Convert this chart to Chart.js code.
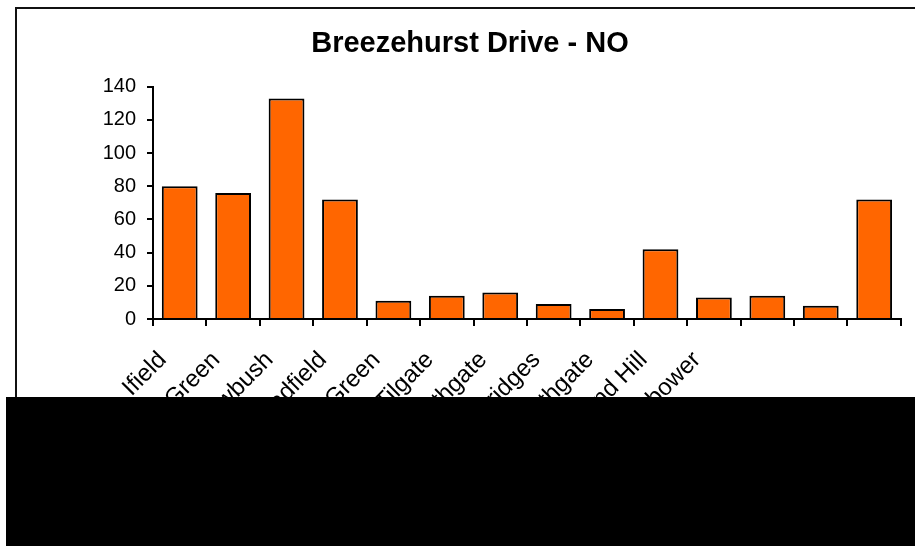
<!DOCTYPE html>
<html lang="en">
<head>
  <meta charset="UTF-8">
  <title>Breezehurst Drive - NO</title>
  <script src="https://cdn.jsdelivr.net/npm/chart.js"></script>
  <style>
    html, body {
      margin: 0;
      padding: 0;
      background: #fff;
    }

    #wrap {
      width: 915px;
      height: 546px;
      position: relative;
    }
  </style>
</head>
<body>
  <div id="wrap">
    <canvas id="myChart" width="915" height="546"></canvas>
  </div>

  <script>
    // Data
    const areas = ['Ifield', 'Langley Green', 'Bewbush', 'Broadfield', 'Gossops Green', 'Tilgate', 'Southgate',
                   'Three Bridges', 'Northgate', 'Pound Hill', 'Maidenbower', '', '', ''];
    const counts = [80, 76, 133, 72, 11, 14, 16, 9, 6, 42, 13, 14, 8, 72];
    const yTicks = [0, 20, 40, 60, 80, 100, 120, 140];

    const font = "'Liberation Sans', Arial, sans-serif";

    // frame round the chart and the black block over the bottom
    const framePlugin = {
      id: 'frame',
      beforeDraw(chart) {
        const c = chart.ctx;
        c.save();
        c.fillStyle = '#fff';
        c.fillRect(0, 0, chart.width, chart.height);
        c.strokeStyle = '#111';
        c.lineWidth = 2;
        c.strokeRect(16, 8, chart.width, chart.height);
        c.restore();
      },
      afterDraw(chart) {
        const c = chart.ctx;
        c.save();
        c.fillStyle = '#000';
        c.fillRect(6, 397, chart.width - 6, chart.height - 397);
        c.restore();
      }
    };

    const ctx = document.getElementById('myChart').getContext('2d');
    const myChart = new Chart(ctx, {
      type: 'bar',
      data: {
        labels: areas,
        datasets: [{
          label: 'Breezehurst Drive - NO',
          data: counts,
          backgroundColor: '#ff6600',
          borderColor: '#000',
          borderWidth: 2,
          borderSkipped: 'bottom',
          barPercentage: 0.67,
          categoryPercentage: 1
        }]
      },
      options: {
        responsive: false,
        animation: false,
        layout: {
          padding: { left: 38, right: 13, top: 0, bottom: 0 }
        },
        plugins: {
          legend: { display: false },
          tooltip: { enabled: false },
          title: {
            display: true,
            text: 'Breezehurst Drive - NO',
            color: '#000',
            font: { family: font, size: 29, weight: 'bold' },
            padding: { top: 27, bottom: 25 }
          }
        },
        scales: {
          x: {
            offset: true,
            grid: {
              display: true,
              offset: true,
              drawOnChartArea: false,
              color: '#000',
              lineWidth: 2,
              tickLength: 7
            },
            border: { color: '#000', width: 2 },
            ticks: {
              color: '#000',
              font: { family: font, size: 24 },
              minRotation: 45,
              maxRotation: 45,
              autoSkip: false,
              labelOffset: -17,
              padding: 20
            },
            afterFit(scale) {
              scale.height = 546 - 319;
            }
          },
          y: {
            min: 0,
            max: 140,
            afterBuildTicks(scale) {
              scale.ticks = yTicks.map(v => ({ value: v }));
            },
            grid: {
              display: true,
              drawOnChartArea: false,
              color: '#000',
              lineWidth: 2,
              tickLength: 6
            },
            border: { color: '#000', width: 2 },
            ticks: {
              color: '#000',
              font: { family: font, size: 20 },
              padding: 11
            },
            afterFit(scale) {
              scale.width = 153 - 38;
            }
          }
        }
      },
      plugins: [framePlugin]
    });
  </script>
</body>
</html>
